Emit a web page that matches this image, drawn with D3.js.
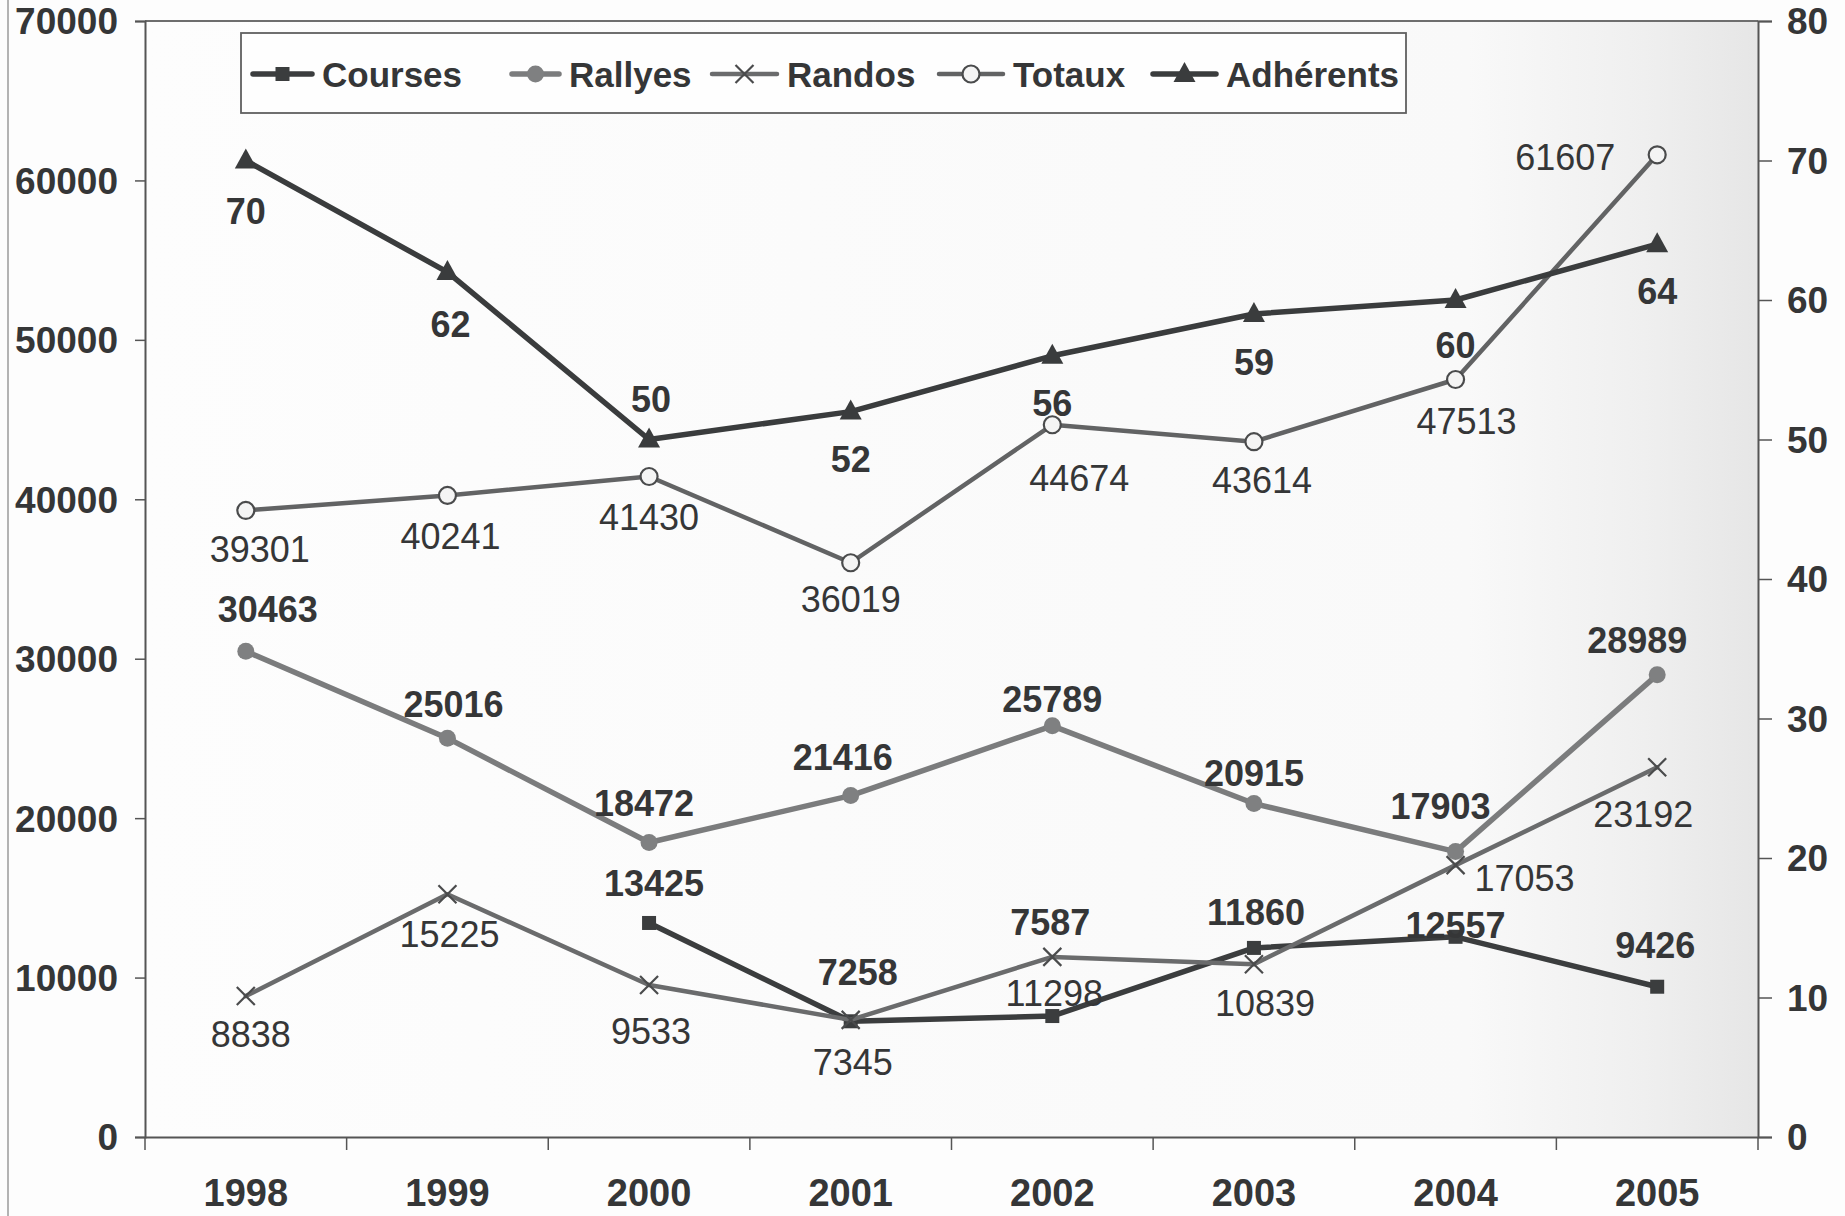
<!DOCTYPE html>
<html>
<head>
<meta charset="utf-8">
<script src="https://cdn.jsdelivr.net/npm/d3@7/dist/d3.min.js"></script>
<style>
  html, body { margin: 0; padding: 0; background: #fdfdfd; }
  svg { display: block; }
  text { font-family: "Liberation Sans", Arial, Helvetica, sans-serif; }
</style>
</head>
<body>
<svg id="chart" width="1845" height="1216"></svg>
<script>
// ---------- DATA ----------
const years = ["1998", "1999", "2000", "2001", "2002", "2003", "2004", "2005"];
const courses   = [null, null, 13425, 7258, 7587, 11860, 12557, 9426];
const rallyes   = [30463, 25016, 18472, 21416, 25789, 20915, 17903, 28989];
const randos    = [8838, 15225, 9533, 7345, 11298, 10839, 17053, 23192];
const totaux    = [39301, 40241, 41430, 36019, 44674, 43614, 47513, 61607];
const adherents = [70, 62, 50, 52, 56, 59, 60, 64];
const leftTicks  = [0, 10000, 20000, 30000, 40000, 50000, 60000, 70000];
const rightTicks = [0, 10, 20, 30, 40, 50, 60, 70, 80];
const seriesNames = ["Courses", "Rallyes", "Randos", "Totaux", "Adhérents"];

// ---------- LAYOUT / STYLE ----------
const M = { left: 145, right: 1758, top: 21, bottom: 1137 };
const labelOffsets = {
  Courses:   [[0,0],[0,0],[5,-40],[7,-49],[-2,-94],[2,-36],[0,-12],[-2,-42]],
  Rallyes:   [[22,-42],[6,-34],[-5,-39],[-8,-39],[0,-27],[0,-31],[-15,-46],[-20,-35]],
  Randos:    [[5,38],[2,40],[2,46],[2,42],[2,36],[11,39],[69,13],[-14,47]],
  Totaux:    [[14,39],[3,41],[0,41],[0,36],[27,53],[8,38],[11,42],[-92,2]],
  "Adhérents": [[0,51],[3,52],[2,-40],[0,47],[0,47],[0,48],[0,45],[0,47]]
};
const styles = {
  Courses:   { stroke: "#3b3d3e", width: 5.5, marker: "square", mfill: "#3b3d3e", bold: true },
  Rallyes:   { stroke: "#7b7c7d", width: 5.5, marker: "dot",    mfill: "#7f8081", bold: true },
  Randos:    { stroke: "#6a6b6c", width: 4.5, marker: "x",      mfill: "none",    bold: false },
  Totaux:    { stroke: "#626364", width: 4.5, marker: "ring",   mfill: "#f4f4f4", bold: false },
  "Adhérents": { stroke: "#3a3c3d", width: 5.5, marker: "tri",  mfill: "#3a3c3d", bold: true }
};
const values = { Courses: courses, Rallyes: rallyes, Randos: randos, Totaux: totaux, "Adhérents": adherents };
const textColor = "#353637";

const svg = d3.select("#chart");

// background with scan shading
const defs = svg.append("defs");
const g1 = defs.append("linearGradient").attr("id", "shade").attr("x1", "0").attr("x2", "1").attr("y1", "0").attr("y2", "0");
g1.append("stop").attr("offset", "0").attr("stop-color", "#fdfdfd");
g1.append("stop").attr("offset", "0.82").attr("stop-color", "#f9f9f9");
g1.append("stop").attr("offset", "0.93").attr("stop-color", "#efefef");
g1.append("stop").attr("offset", "1").attr("stop-color", "#e6e6e6");
svg.append("rect").attr("x", M.left).attr("y", M.top)
  .attr("width", M.right - M.left).attr("height", M.bottom - M.top)
  .attr("fill", "url(#shade)");
// scan border on the far left
svg.append("line").attr("x1", 8).attr("x2", 8).attr("y1", 0).attr("y2", 1216)
  .attr("stroke", "#9a9a9a").attr("stroke-width", 1.5);

// ---------- SCALES ----------
const x = d3.scaleBand().domain(years).range([M.left, M.right]).paddingInner(0).paddingOuter(0);
const yL = d3.scaleLinear().domain([0, 70000]).range([M.bottom, M.top]);
const yR = d3.scaleLinear().domain([0, 80]).range([M.bottom, M.top]);
const cx = d => x(d) + x.bandwidth() / 2;
const yFor = name => name === "Adhérents" ? yR : yL;

// plot frame top
svg.append("line").attr("x1", M.left).attr("x2", M.right).attr("y1", M.top).attr("y2", M.top)
  .attr("stroke", "#6e6e6e").attr("stroke-width", 2);

// ---------- AXES ----------
const axL = svg.append("g").attr("transform", `translate(${M.left},0)`)
  .call(d3.axisLeft(yL).tickValues(leftTicks).tickSize(10).tickPadding(17).tickFormat(d3.format("d")));
const axR = svg.append("g").attr("transform", `translate(${M.right},0)`)
  .call(d3.axisRight(yR).tickValues(rightTicks).tickSize(14).tickPadding(15).tickFormat(d3.format("d")));
const axB = svg.append("g").attr("transform", `translate(0,${M.bottom})`)
  .call(d3.axisBottom(x).tickSize(0).tickPadding(42));
[axL, axR, axB].forEach(a => {
  a.selectAll("path.domain").attr("stroke", "#555").attr("stroke-width", 2);
  a.selectAll(".tick line").attr("stroke", "#555").attr("stroke-width", 1.5);
  a.selectAll("text").attr("font-size", 37).attr("font-weight", "bold").attr("fill", textColor)
    .attr("font-family", "'Liberation Sans', Arial, Helvetica, sans-serif");
});
axL.selectAll("text").attr("dy", "0.35em");
axR.selectAll("text").attr("dy", "0.35em");
axB.selectAll("text").attr("font-size", 38);
// category boundary ticks
const bounds = years.map(y => x(y)).concat([M.right]);
svg.append("g").selectAll("line").data(bounds).join("line")
  .attr("x1", d => d).attr("x2", d => d).attr("y1", M.bottom).attr("y2", M.bottom + 13)
  .attr("stroke", "#555").attr("stroke-width", 1.5);

// ---------- MARKERS ----------
function drawMarker(g, type, st, px, py) {
  if (type === "square") {
    g.append("rect").attr("x", px - 7).attr("y", py - 7).attr("width", 14).attr("height", 14).attr("fill", st.mfill);
  } else if (type === "dot") {
    g.append("circle").attr("cx", px).attr("cy", py).attr("r", 8.5).attr("fill", st.mfill);
  } else if (type === "x") {
    const s = 9;
    g.append("path").attr("d", `M${px - s},${py - s}L${px + s},${py + s}M${px - s},${py + s}L${px + s},${py - s}`)
      .attr("stroke", "#4a4b4c").attr("stroke-width", 2.2).attr("fill", "none");
  } else if (type === "ring") {
    g.append("circle").attr("cx", px).attr("cy", py).attr("r", 8.5).attr("fill", st.mfill)
      .attr("stroke", "#4a4b4c").attr("stroke-width", 2.2);
  } else if (type === "tri") {
    const s = 10;
    g.append("path").attr("d", `M${px},${py - s - 2}L${px + s + 1},${py + s - 2}L${px - s - 1},${py + s - 2}Z`).attr("fill", st.mfill);
  }
}

// ---------- SERIES ----------
seriesNames.forEach(name => {
  const vals = values[name];
  const st = styles[name];
  const ys = yFor(name);
  const pts = years.map((yr, i) => ({ yr, v: vals[i], i }));
  const line = d3.line().defined(d => d.v !== null).x(d => cx(d.yr)).y(d => ys(d.v));
  const g = svg.append("g");
  g.append("path").datum(pts).attr("d", line).attr("fill", "none")
    .attr("stroke", st.stroke).attr("stroke-width", st.width).attr("stroke-linejoin", "round").attr("stroke-linecap", "round");
  pts.filter(d => d.v !== null).forEach(d => drawMarker(g, st.marker, st, cx(d.yr), ys(d.v)));
});

// ---------- LABELS ----------
seriesNames.forEach(name => {
  const vals = values[name];
  const st = styles[name];
  const ys = yFor(name);
  const g = svg.append("g");
  years.forEach((yr, i) => {
    if (vals[i] === null) return;
    const off = labelOffsets[name][i];
    g.append("text").attr("x", cx(yr) + off[0]).attr("y", ys(vals[i]) + off[1])
      .attr("dy", "0.36em").attr("text-anchor", "middle")
      .attr("font-size", 36).attr("font-weight", st.bold ? "bold" : "normal")
      .attr("fill", textColor).text(vals[i]);
  });
});

// ---------- LEGEND ----------
const lg = svg.append("g");
lg.append("rect").attr("x", 241).attr("y", 33).attr("width", 1165).attr("height", 80)
  .attr("fill", "#fefefe").attr("stroke", "#606060").attr("stroke-width", 1.8);
const legendX = [253, 512, 712, 939, 1153];
const legendLen = [59, 47, 65, 64, 63];
seriesNames.forEach((name, i) => {
  const st = styles[name];
  const ly = 74;
  const x0 = legendX[i], x1 = legendX[i] + legendLen[i];
  lg.append("line").attr("x1", x0).attr("x2", x1).attr("y1", ly).attr("y2", ly)
    .attr("stroke", st.stroke).attr("stroke-width", st.width).attr("stroke-linecap", "round");
  drawMarker(lg, st.marker, st, (x0 + x1) / 2, ly);
  lg.append("text").attr("x", x1 + 10).attr("y", ly).attr("dy", "0.36em")
    .attr("font-size", 35).attr("font-weight", "bold").attr("fill", textColor).text(name);
});
</script>
</body>
</html>
